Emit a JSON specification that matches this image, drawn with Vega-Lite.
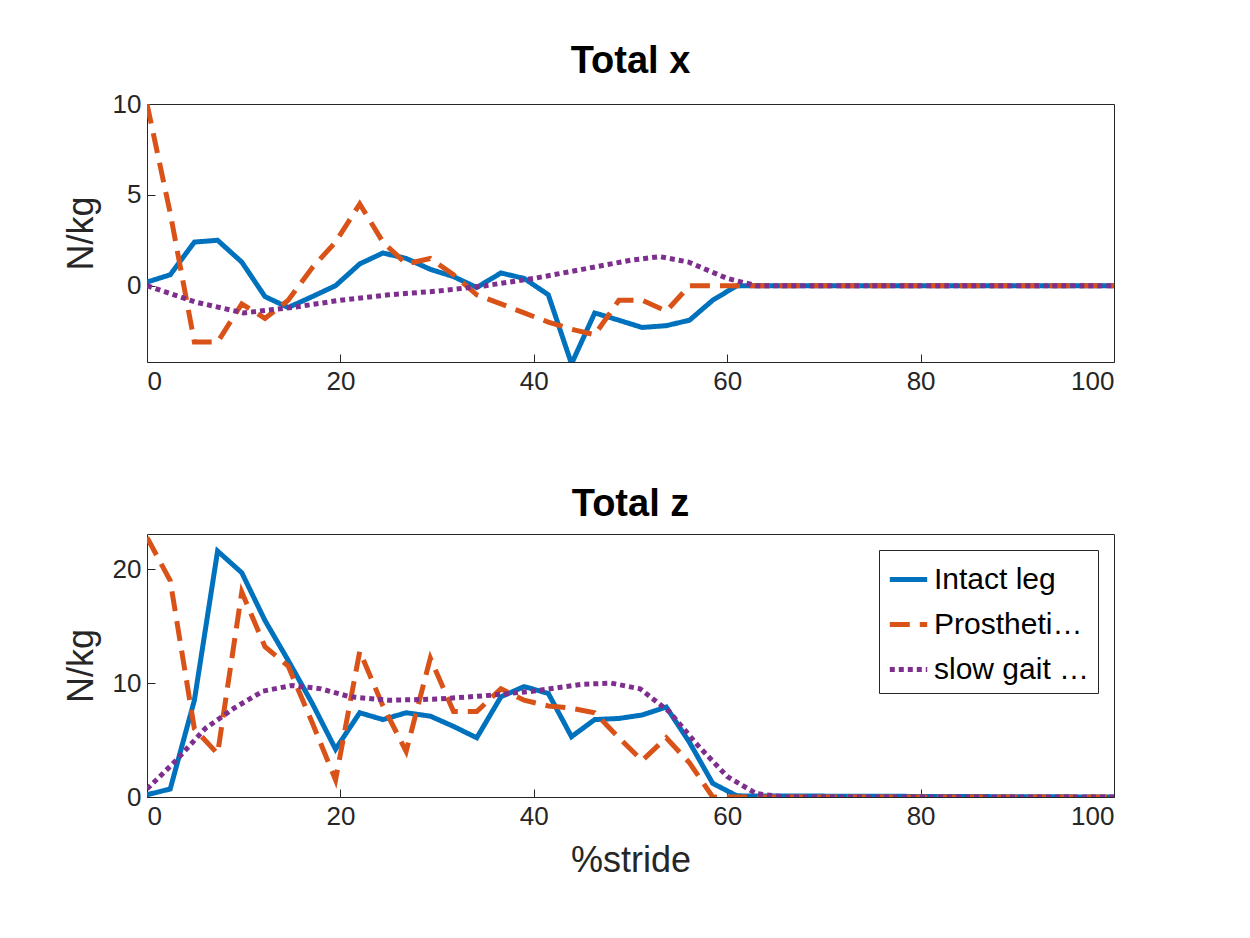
{
  "$schema": "https://vega.github.io/schema/vega-lite/v6.json",
  "padding": {"left": 62, "top": 42, "right": 10, "bottom": 10},
  "background": "white",
  "config": {
    "font": "Liberation Sans",
    "view": {"stroke": "#262626", "strokeWidth": 1},
    "axis": {"grid": false, "domain": false, "labelFontSize": 26, "labelColor": "#262626", "tickColor": "#262626", "tickSize": -8, "labelPadding": 14, "titleFontSize": 36, "titleFontWeight": "normal", "titleColor": "#262626"},
    "title": {"fontSize": 38, "fontWeight": "bold", "color": "black", "offset": 10}
  },
  "datasets": {
    "d": [
      {"p":"x","s":"Intact leg","t":0,"v":0.2},{"p":"x","s":"Intact leg","t":2.4,"v":0.6},{"p":"x","s":"Intact leg","t":4.9,"v":2.4},{"p":"x","s":"Intact leg","t":7.3,"v":2.5},{"p":"x","s":"Intact leg","t":9.8,"v":1.3},{"p":"x","s":"Intact leg","t":12.2,"v":-0.6},{"p":"x","s":"Intact leg","t":14.6,"v":-1.2},{"p":"x","s":"Intact leg","t":17.1,"v":-0.6},{"p":"x","s":"Intact leg","t":19.5,"v":0},{"p":"x","s":"Intact leg","t":22,"v":1.2},{"p":"x","s":"Intact leg","t":24.4,"v":1.8},{"p":"x","s":"Intact leg","t":26.8,"v":1.5},{"p":"x","s":"Intact leg","t":29.3,"v":0.9},{"p":"x","s":"Intact leg","t":31.7,"v":0.5},{"p":"x","s":"Intact leg","t":34.1,"v":-0.1},{"p":"x","s":"Intact leg","t":36.6,"v":0.7},{"p":"x","s":"Intact leg","t":39,"v":0.4},{"p":"x","s":"Intact leg","t":41.5,"v":-0.5},{"p":"x","s":"Intact leg","t":43.9,"v":-4.3},{"p":"x","s":"Intact leg","t":46.3,"v":-1.5},{"p":"x","s":"Intact leg","t":48.8,"v":-1.9},{"p":"x","s":"Intact leg","t":51.2,"v":-2.3},{"p":"x","s":"Intact leg","t":53.7,"v":-2.2},{"p":"x","s":"Intact leg","t":56.1,"v":-1.9},{"p":"x","s":"Intact leg","t":58.5,"v":-0.8},{"p":"x","s":"Intact leg","t":61,"v":0},{"p":"x","s":"Intact leg","t":100,"v":0},
      {"p":"x","s":"Prosthetic leg","t":0,"v":10},{"p":"x","s":"Prosthetic leg","t":2.4,"v":4},{"p":"x","s":"Prosthetic leg","t":4.9,"v":-3.1},{"p":"x","s":"Prosthetic leg","t":7.3,"v":-3.1},{"p":"x","s":"Prosthetic leg","t":9.8,"v":-1.0},{"p":"x","s":"Prosthetic leg","t":12.2,"v":-1.8},{"p":"x","s":"Prosthetic leg","t":14.6,"v":-0.8},{"p":"x","s":"Prosthetic leg","t":17.1,"v":1.0},{"p":"x","s":"Prosthetic leg","t":19.5,"v":2.4},{"p":"x","s":"Prosthetic leg","t":22,"v":4.5},{"p":"x","s":"Prosthetic leg","t":24.4,"v":2.4},{"p":"x","s":"Prosthetic leg","t":26.8,"v":1.2},{"p":"x","s":"Prosthetic leg","t":29.3,"v":1.5},{"p":"x","s":"Prosthetic leg","t":31.7,"v":0.6},{"p":"x","s":"Prosthetic leg","t":34.1,"v":-0.5},{"p":"x","s":"Prosthetic leg","t":36.6,"v":-1.0},{"p":"x","s":"Prosthetic leg","t":39,"v":-1.5},{"p":"x","s":"Prosthetic leg","t":41.5,"v":-2.0},{"p":"x","s":"Prosthetic leg","t":43.9,"v":-2.4},{"p":"x","s":"Prosthetic leg","t":46.3,"v":-2.7},{"p":"x","s":"Prosthetic leg","t":48.8,"v":-0.8},{"p":"x","s":"Prosthetic leg","t":51.2,"v":-0.8},{"p":"x","s":"Prosthetic leg","t":53.7,"v":-1.4},{"p":"x","s":"Prosthetic leg","t":56.1,"v":0},{"p":"x","s":"Prosthetic leg","t":100,"v":0},
      {"p":"x","s":"slow gait Winter","t":0,"v":0},{"p":"x","s":"slow gait Winter","t":5,"v":-0.9},{"p":"x","s":"slow gait Winter","t":10,"v":-1.5},{"p":"x","s":"slow gait Winter","t":15,"v":-1.2},{"p":"x","s":"slow gait Winter","t":20,"v":-0.8},{"p":"x","s":"slow gait Winter","t":25,"v":-0.5},{"p":"x","s":"slow gait Winter","t":30,"v":-0.3},{"p":"x","s":"slow gait Winter","t":35,"v":0},{"p":"x","s":"slow gait Winter","t":40,"v":0.4},{"p":"x","s":"slow gait Winter","t":45,"v":0.9},{"p":"x","s":"slow gait Winter","t":50,"v":1.4},{"p":"x","s":"slow gait Winter","t":53,"v":1.6},{"p":"x","s":"slow gait Winter","t":56,"v":1.3},{"p":"x","s":"slow gait Winter","t":60,"v":0.4},{"p":"x","s":"slow gait Winter","t":63,"v":0},{"p":"x","s":"slow gait Winter","t":100,"v":0},
      {"p":"z","s":"Intact leg","t":0,"v":0.2},{"p":"z","s":"Intact leg","t":2.4,"v":0.7},{"p":"z","s":"Intact leg","t":4.9,"v":8.5},{"p":"z","s":"Intact leg","t":7.3,"v":21.6},{"p":"z","s":"Intact leg","t":9.8,"v":19.7},{"p":"z","s":"Intact leg","t":12.2,"v":15.5},{"p":"z","s":"Intact leg","t":14.6,"v":12},{"p":"z","s":"Intact leg","t":17.1,"v":8.2},{"p":"z","s":"Intact leg","t":19.5,"v":4.2},{"p":"z","s":"Intact leg","t":22,"v":7.4},{"p":"z","s":"Intact leg","t":24.4,"v":6.8},{"p":"z","s":"Intact leg","t":26.8,"v":7.4},{"p":"z","s":"Intact leg","t":29.3,"v":7.1},{"p":"z","s":"Intact leg","t":31.7,"v":6.2},{"p":"z","s":"Intact leg","t":34.1,"v":5.2},{"p":"z","s":"Intact leg","t":36.6,"v":8.8},{"p":"z","s":"Intact leg","t":39,"v":9.7},{"p":"z","s":"Intact leg","t":41.5,"v":9.1},{"p":"z","s":"Intact leg","t":43.9,"v":5.3},{"p":"z","s":"Intact leg","t":46.3,"v":6.8},{"p":"z","s":"Intact leg","t":48.8,"v":6.9},{"p":"z","s":"Intact leg","t":51.2,"v":7.2},{"p":"z","s":"Intact leg","t":53.7,"v":7.9},{"p":"z","s":"Intact leg","t":56.1,"v":4.8},{"p":"z","s":"Intact leg","t":58.5,"v":1.2},{"p":"z","s":"Intact leg","t":61,"v":0.1},{"p":"z","s":"Intact leg","t":100,"v":0},
      {"p":"z","s":"Prosthetic leg","t":0,"v":22.8},{"p":"z","s":"Prosthetic leg","t":2.4,"v":19},{"p":"z","s":"Prosthetic leg","t":4.9,"v":6},{"p":"z","s":"Prosthetic leg","t":7.3,"v":3.8},{"p":"z","s":"Prosthetic leg","t":9.8,"v":18},{"p":"z","s":"Prosthetic leg","t":12.2,"v":13.2},{"p":"z","s":"Prosthetic leg","t":14.6,"v":11.5},{"p":"z","s":"Prosthetic leg","t":17.1,"v":6.5},{"p":"z","s":"Prosthetic leg","t":19.5,"v":1.5},{"p":"z","s":"Prosthetic leg","t":22,"v":12.8},{"p":"z","s":"Prosthetic leg","t":24.4,"v":8},{"p":"z","s":"Prosthetic leg","t":26.8,"v":4},{"p":"z","s":"Prosthetic leg","t":29.3,"v":12.2},{"p":"z","s":"Prosthetic leg","t":31.7,"v":7.5},{"p":"z","s":"Prosthetic leg","t":34.1,"v":7.5},{"p":"z","s":"Prosthetic leg","t":36.6,"v":9.5},{"p":"z","s":"Prosthetic leg","t":39,"v":8.5},{"p":"z","s":"Prosthetic leg","t":41.5,"v":8},{"p":"z","s":"Prosthetic leg","t":43.9,"v":7.8},{"p":"z","s":"Prosthetic leg","t":46.3,"v":7.4},{"p":"z","s":"Prosthetic leg","t":48.8,"v":5.2},{"p":"z","s":"Prosthetic leg","t":51.2,"v":3.2},{"p":"z","s":"Prosthetic leg","t":53.7,"v":5.2},{"p":"z","s":"Prosthetic leg","t":56.1,"v":3},{"p":"z","s":"Prosthetic leg","t":58.5,"v":0},{"p":"z","s":"Prosthetic leg","t":100,"v":0},
      {"p":"z","s":"slow gait Winter","t":0,"v":0.7},{"p":"z","s":"slow gait Winter","t":3,"v":3.2},{"p":"z","s":"slow gait Winter","t":6,"v":6},{"p":"z","s":"slow gait Winter","t":9,"v":7.8},{"p":"z","s":"slow gait Winter","t":12,"v":9.3},{"p":"z","s":"slow gait Winter","t":15,"v":9.8},{"p":"z","s":"slow gait Winter","t":18,"v":9.5},{"p":"z","s":"slow gait Winter","t":21,"v":8.8},{"p":"z","s":"slow gait Winter","t":25,"v":8.5},{"p":"z","s":"slow gait Winter","t":30,"v":8.6},{"p":"z","s":"slow gait Winter","t":35,"v":8.9},{"p":"z","s":"slow gait Winter","t":40,"v":9.3},{"p":"z","s":"slow gait Winter","t":45,"v":9.9},{"p":"z","s":"slow gait Winter","t":48,"v":10},{"p":"z","s":"slow gait Winter","t":51,"v":9.5},{"p":"z","s":"slow gait Winter","t":54,"v":7.5},{"p":"z","s":"slow gait Winter","t":57,"v":4.5},{"p":"z","s":"slow gait Winter","t":60,"v":1.8},{"p":"z","s":"slow gait Winter","t":63,"v":0.3},{"p":"z","s":"slow gait Winter","t":66,"v":0},{"p":"z","s":"slow gait Winter","t":100,"v":0}
    ]
  },
  "spacing": 90,
  "resolve": {"legend": {"color": "independent", "strokeDash": "independent"}, "scale": {"y": "independent"}},
  "vconcat": [
    {
      "title": "Total x",
      "width": 967,
      "height": 258,
      "data": {"name": "d"},
      "transform": [{"filter": "datum.p == 'x'"}],
      "mark": {"type": "line", "strokeWidth": 5, "clip": true},
      "encoding": {
        "x": {"field": "t", "type": "quantitative", "scale": {"domain": [0, 100], "nice": false}, "axis": {"values": [0, 20, 40, 60, 80, 100], "title": null}},
        "y": {"field": "v", "type": "quantitative", "scale": {"domain": [-4.2, 10], "nice": false, "zero": false}, "axis": {"values": [0, 5, 10], "title": "N/kg", "titlePadding": 12}},
        "color": {"field": "s", "type": "nominal", "scale": {"domain": ["Intact leg", "Prosthetic leg", "slow gait Winter"], "range": ["#0072BD", "#D95319", "#7E2F8E"]}, "legend": null},
        "strokeDash": {"field": "s", "type": "nominal", "scale": {"domain": ["Intact leg", "Prosthetic leg", "slow gait Winter"], "range": [[1, 0], [20, 10], [5, 4]]}, "legend": null},
        "order": {"field": "t", "type": "quantitative"}
      }
    },
    {
      "title": "Total z",
      "width": 967,
      "height": 263,
      "data": {"name": "d"},
      "transform": [{"filter": "datum.p == 'z'"}],
      "mark": {"type": "line", "strokeWidth": 5, "clip": true},
      "encoding": {
        "x": {"field": "t", "type": "quantitative", "scale": {"domain": [0, 100], "nice": false}, "axis": {"values": [0, 20, 40, 60, 80, 100], "title": "%stride", "titlePadding": 14}},
        "y": {"field": "v", "type": "quantitative", "scale": {"domain": [0, 23.1], "nice": false}, "axis": {"values": [0, 10, 20], "title": "N/kg", "titlePadding": 12}},
        "color": {"field": "s", "type": "nominal", "scale": {"domain": ["Intact leg", "Prosthetic leg", "slow gait Winter"], "range": ["#0072BD", "#D95319", "#7E2F8E"]}, "legend": {"title": null, "orient": "top-right", "offset": 16, "labelFontSize": 30, "labelColor": "black", "symbolType": "stroke", "symbolSize": 1400, "symbolStrokeWidth": 5, "strokeColor": "#262626", "fillColor": "white", "padding": 8, "rowPadding": 8}},
        "strokeDash": {"field": "s", "type": "nominal", "scale": {"domain": ["Intact leg", "Prosthetic leg", "slow gait Winter"], "range": [[1, 0], [20, 10], [5, 4]]}, "legend": {"title": null, "orient": "top-right"}},
        "order": {"field": "t", "type": "quantitative"}
      }
    }
  ]
}
